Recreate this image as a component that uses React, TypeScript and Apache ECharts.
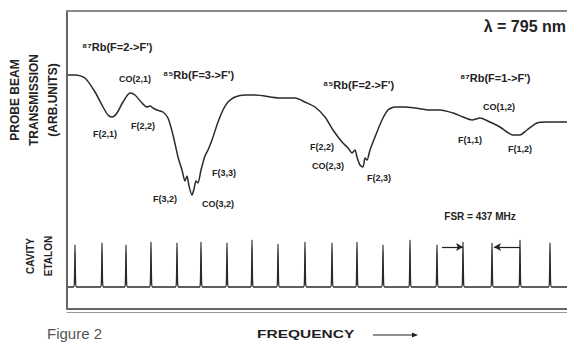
import React, { useEffect, useRef } from "react";
import * as echarts from "echarts";

// Probe beam transmission spectrum (x: frequency, arb; y: transmission, arb)
const specFreq = [1, 8, 18, 28, 36, 41, 45, 50, 56, 63, 68, 75, 80, 83, 86, 90, 96, 101, 106, 111, 115, 118, 120, 122, 125, 127, 129, 131, 134, 138, 141, 145, 151, 156, 161, 168, 178, 188, 213, 228, 238, 248, 258, 266, 275, 281, 285, 288, 290, 293, 296, 298, 300, 303, 308, 315, 321, 328, 338, 348, 363, 373, 386, 396, 405, 413, 423, 433, 440, 446, 453, 460, 470, 480, 500];
const specTrans = [234, 234, 231, 217, 202, 194, 192, 196, 207, 216, 214, 206, 202, 203, 201, 199, 197, 191, 174, 152, 139, 128, 133, 123, 114, 120, 128, 126, 139, 153, 159, 169, 187, 199, 207, 212, 214, 214, 211, 211, 207, 202, 192, 179, 167, 161, 156, 159, 152, 144, 142, 151, 149, 159, 172, 189, 199, 202, 202, 201, 199, 199, 196, 192, 189, 191, 187, 182, 177, 174, 174, 179, 186, 187, 187];

// Cavity etalon transmission peaks
const etalonPeakFreq = [8, 35, 59, 84, 110, 134, 160, 185, 211, 238, 265, 290, 316, 343, 370, 396, 425, 453, 483];
const etalonPeakHeight = [64, 66, 64, 67, 66, 67, 66, 69, 65, 67, 66, 67, 64, 69, 64, 67, 66, 69, 66];
const etalonBase = 22;

// annotations
const labels: [string, number, number, number, string][] = [
  ["⁸⁷Rb(F=2->F')", 82, 47, 11, "left"],
  ["⁸⁵Rb(F=3->F')", 163, 75, 11, "left"],
  ["CO(2,1)", 135, 79, 9, "center"],
  ["F(2,1)", 105, 134, 9, "center"],
  ["F(2,2)", 143, 126, 9, "center"],
  ["F(3,2)", 165, 199, 9, "center"],
  ["F(3,3)", 224, 173, 9, "center"],
  ["CO(3,2)", 218, 204, 9, "center"],
  ["⁸⁵Rb(F=2->F')", 323, 85, 11, "left"],
  ["F(2,2)", 322, 147, 9, "center"],
  ["CO(2,3)", 328, 166, 9, "center"],
  ["F(2,3)", 379, 178, 9, "center"],
  ["⁸⁷Rb(F=1->F')", 460, 78, 11, "left"],
  ["CO(1,2)", 499, 107, 9, "center"],
  ["F(1,1)", 470, 140, 9, "center"],
  ["F(1,2)", 520, 149, 9, "center"],
];

const FONT = "'Liberation Sans', Arial, sans-serif";

export default function App() {
  const ref = useRef<HTMLDivElement>(null);
  useEffect(() => {
    document.body.style.margin = "0";
    if (!ref.current) return;
    const chart = echarts.init(ref.current, null, { renderer: "svg" });

    const spectrum = specFreq.map((f, i) => [f, specTrans[i]]);
    const etalon: number[][] = [[1, etalonBase]];
    etalonPeakFreq.forEach((f, i) => {
      etalon.push([f - 1.6, etalonBase]);
      etalon.push([f - 0.6, etalonBase + 5]);
      etalon.push([f, etalonPeakHeight[i]]);
      etalon.push([f + 0.6, etalonBase + 5]);
      etalon.push([f + 1.6, etalonBase]);
    });
    etalon.push([500, etalonBase]);

    const graphic: any[] = labels.map(([t, x, y, s, a]) => ({
      type: "text",
      x,
      y,
      style: {
        text: t,
        font: `bold ${s}px ${FONT}`,
        fill: "#222",
        align: a,
        verticalAlign: "middle",
      },
    }));
    graphic.push(
      {
        type: "text",
        x: 566,
        y: 26,
        style: { text: "λ = 795 nm", font: `bold 16px ${FONT}`, fill: "#222", align: "right", verticalAlign: "middle" },
      },
      {
        type: "text",
        x: 480,
        y: 216,
        style: { text: "FSR = 437 MHz", font: `bold 10px ${FONT}`, fill: "#222", align: "center", verticalAlign: "middle" },
      },
      {
        type: "text",
        x: 34,
        y: 100,
        rotation: Math.PI / 2,
        style: {
          text: "PROBE BEAM\nTRANSMISSION\n(ARB.UNITS)",
          font: `bold 12px ${FONT}`,
          lineHeight: 19,
          fill: "#222",
          align: "center",
          verticalAlign: "middle",
        },
      },
      {
        type: "text",
        x: 39,
        y: 256,
        rotation: Math.PI / 2,
        style: {
          text: "CAVITY\nETALON",
          font: `bold 10px ${FONT}`,
          lineHeight: 18,
          fill: "#222",
          align: "center",
          verticalAlign: "middle",
        },
      },
      {
        type: "text",
        x: 257,
        y: 335,
        scaleX: 1.55,
        style: { text: "FREQUENCY", font: `bold 10px ${FONT}`, fill: "#222", align: "left", verticalAlign: "middle" },
      },
      {
        type: "line",
        shape: { x1: 373, y1: 335, x2: 414, y2: 335 },
        style: { stroke: "#222", lineWidth: 1.2 },
      },
      {
        type: "polygon",
        shape: { points: [[412, 332.5], [418, 335], [412, 337.5]] },
        style: { fill: "#222" },
      },
      {
        type: "text",
        x: 47,
        y: 326,
        style: { text: "Figure 2", font: `15px ${FONT}`, fill: "#555", align: "left", verticalAlign: "top" },
      }
    );

    chart.setOption({
      animation: false,
      backgroundColor: "#fff",
      grid: { left: 67, right: 0, top: 11, bottom: 35 },
      xAxis: [
        {
          type: "value",
          min: 0,
          max: 500,
          position: "bottom",
          axisLine: { show: true, lineStyle: { color: "#666", width: 2 } },
          axisTick: { show: false },
          axisLabel: { show: false },
          splitLine: { show: false },
        },
        {
          type: "value",
          min: 0,
          max: 500,
          position: "top",
          axisLine: { show: true, lineStyle: { color: "#888", width: 2 } },
          axisTick: { show: false },
          axisLabel: { show: false },
          splitLine: { show: false },
        },
        {
          type: "value",
          min: 0,
          max: 500,
          position: "bottom",
          offset: 3,
          axisLine: { show: true, lineStyle: { color: "#999", width: 1 } },
          axisTick: { show: false },
          axisLabel: { show: false },
          splitLine: { show: false },
        },
      ],
      yAxis: {
        type: "value",
        min: 0,
        max: 298,
        axisLine: { show: true, onZero: false, lineStyle: { color: "#666", width: 2 } },
        axisTick: { show: false },
        axisLabel: { show: false },
        splitLine: { show: false },
      },
      series: [
        {
          type: "line",
          data: spectrum,
          smooth: 0.25,
          symbol: "none",
          lineStyle: { color: "#2a2a2a", width: 1.5 },
        },
        {
          type: "line",
          data: etalon,
          symbol: "none",
          smooth: 0.2,
          lineStyle: { color: "#2a2a2a", width: 1.3 },
          markLine: {
            silent: true,
            symbol: ["none", "arrow"],
            symbolSize: [6, 7],
            label: { show: false },
            lineStyle: { color: "#222", width: 1.2, type: "solid" },
            data: [
              [{ coord: [375, 62] }, { coord: [396, 62] }],
              [{ coord: [453, 62] }, { coord: [427, 62] }],
            ],
          },
        },
      ],
      graphic,
    });
    return () => chart.dispose();
  }, []);
  return <div ref={ref} style={{ width: 567, height: 344 }} />;
}
